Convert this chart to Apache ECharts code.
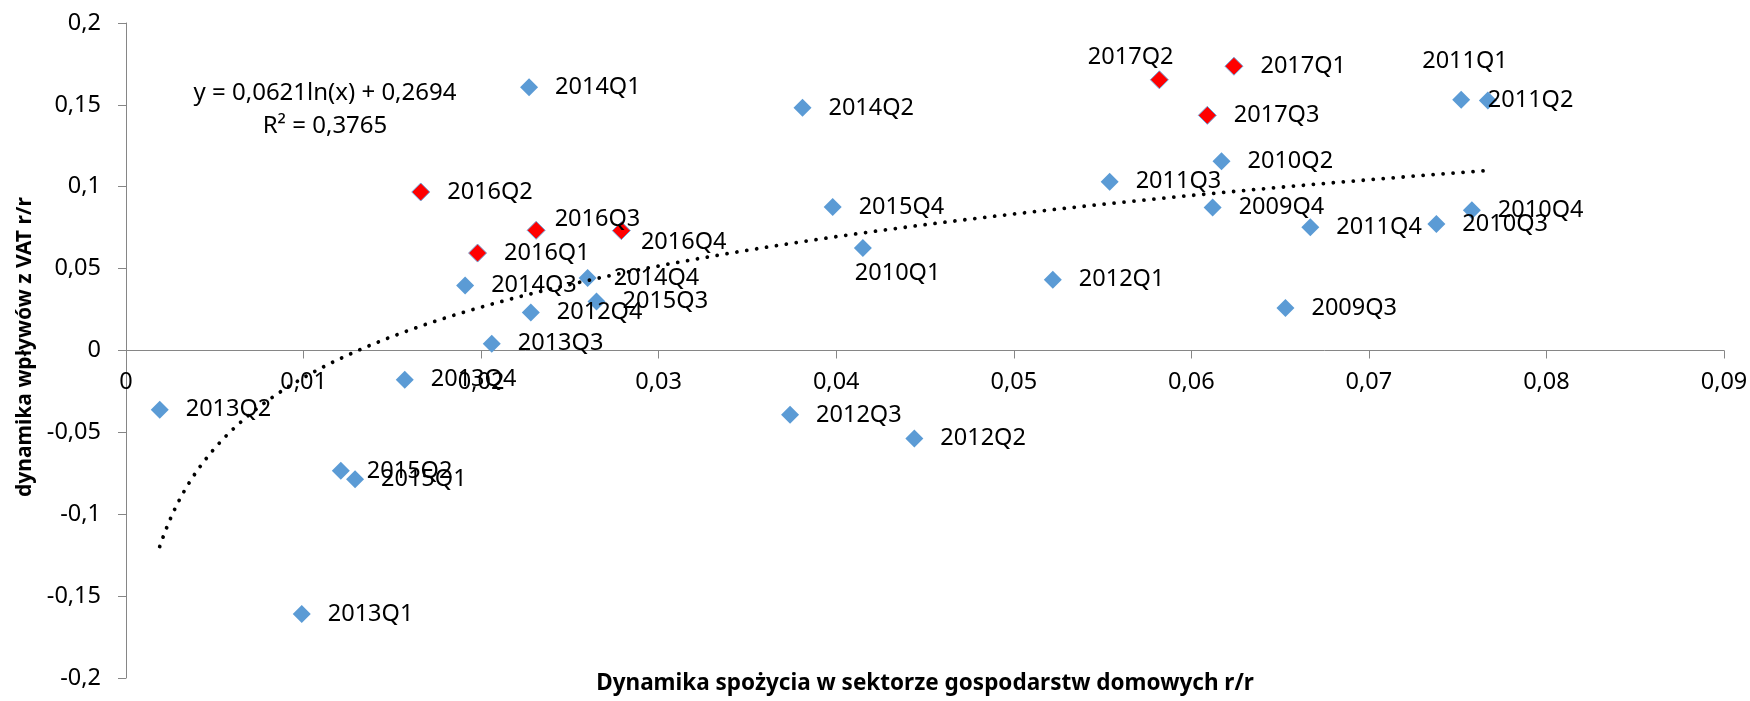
<!DOCTYPE html>
<html>
<head>
<meta charset="utf-8">
<script src="https://cdn.jsdelivr.net/npm/echarts@6/dist/echarts.min.js"></script>
<style>html,body{margin:0;padding:0;background:#fff;}#c{width:1750px;height:701px;}</style>
</head>
<body>
<div id="c"></div>
<script>
// ---- data ----
var blueLabels = ['2009Q3','2009Q4','2010Q1','2010Q2','2010Q3','2010Q4','2011Q1','2011Q2','2011Q3','2011Q4',
  '2012Q1','2012Q2','2012Q3','2012Q4','2013Q1','2013Q2','2013Q3','2013Q4','2014Q1','2014Q2','2014Q3','2014Q4',
  '2015Q1','2015Q2','2015Q3','2015Q4'];
var blueX = [0.0653,0.0612,0.0415,0.0617,0.0738,0.0758,0.0752,0.0767,0.0554,0.0667,
  0.0522,0.0444,0.0374,0.0228,0.0099,0.0019,0.0206,0.0157,0.0227,0.0381,0.0191,0.0260,
  0.0129,0.0121,0.0265,0.0398];
var blueY = [0.0259,0.0874,0.0626,0.1155,0.0773,0.0856,0.1532,0.1526,0.1031,0.0752,
  0.0432,-0.0538,-0.0393,0.0232,-0.1609,-0.0362,0.0041,-0.0179,0.1608,0.1482,0.0397,0.0442,
  -0.0786,-0.0735,0.0300,0.0877];
var redLabels = ['2016Q1','2016Q2','2016Q3','2016Q4','2017Q1','2017Q2','2017Q3'];
var redX = [0.0198,0.0166,0.0231,0.0279,0.0624,0.0582,0.0609];
var redY = [0.0595,0.0968,0.0734,0.0732,0.1736,0.1653,0.1436];
// logarithmic trendline shown on the chart: y = a*ln(x) + b
var trendA = 0.0621, trendB = 0.2694;
var trendText = ['y = 0,0621ln(x) + 0,2694', 'R\u00b2 = 0,3765'];
var xTitle = 'Dynamika spo\u017cycia w sektorze gospodarstw domowych r/r';
var yTitle = 'dynamika wp\u0142yw\u00f3w z VAT r/r';

// ---- label placement tweaks (styling, not data) ----
var labelOffsets = {
  '2017Q2': [-98, -23],
  '2011Q1': [-65, -38],
  '2010Q1': [-34, 25],
  '2016Q3': [-8, -11],
  '2016Q4': [-7, 12],
  '2011Q2': [-26, 0]
};

var FONT = '"Noto Sans", "Open Sans", sans-serif';
function fmt(v) { return String(Math.round(v * 1000) / 1000).replace('.', ','); }

function buildPoints(xs, ys, names) {
  return xs.map(function (x, i) {
    var p = { name: names[i], value: [x, ys[i]] };
    if (labelOffsets[names[i]]) p.label = { offset: labelOffsets[names[i]] };
    return p;
  });
}

var allX = blueX.concat(redX);
var xMin = Math.min.apply(null, allX), xMax = Math.max.apply(null, allX);
var trend = [];
var N = 300;
for (var i = 0; i <= N; i++) {
  var x = xMin + (xMax - xMin) * i / N;
  trend.push([x, trendA * Math.log(x) + trendB]);
}

var GRID_TOP = 23, GRID_BOTTOM = 23, H = 701;
var plotH = H - GRID_TOP - GRID_BOTTOM;

var labelStyle = {
  show: true, position: 'right', distance: 17,
  formatter: '{b}', color: '#000', fontFamily: FONT, fontSize: 23.5
};

var chart = echarts.init(document.getElementById('c'), null, { renderer: 'canvas' });
chart.setOption({
  animation: false,
  backgroundColor: '#fff',
  grid: { left: 126, right: 26, top: GRID_TOP, bottom: GRID_BOTTOM, containLabel: false, outerBoundsMode: 'none' },
  xAxis: {
    type: 'value', min: 0, max: 0.09, interval: 0.01,
    position: 'bottom', offset: -plotH / 2,
    axisLine: { onZero: false, lineStyle: { color: '#868686', width: 1 } },
    axisTick: { show: true, length: 8, lineStyle: { color: '#868686' } },
    splitLine: { show: false },
    axisLabel: { formatter: fmt, color: '#000', fontFamily: FONT, fontSize: 23.5, margin: 20 }
  },
  yAxis: {
    type: 'value', min: -0.2, max: 0.2, interval: 0.05,
    axisLine: { show: true, onZero: false, lineStyle: { color: '#868686', width: 1 } },
    axisTick: { show: true, length: 8, lineStyle: { color: '#868686' } },
    splitLine: { show: false },
    axisLabel: { formatter: fmt, color: '#000', fontFamily: FONT, fontSize: 23.5, margin: 25 }
  },
  series: [
    {
      type: 'line', data: trend, showSymbol: false, symbol: 'none', smooth: false,
      lineStyle: { color: '#000', width: 3.8, type: [0.01, 10], cap: 'round' },
      z: 3, silent: true
    },
    {
      type: 'scatter', symbol: 'diamond', symbolSize: 18,
      data: buildPoints(blueX, blueY, blueLabels),
      itemStyle: { color: '#5B9BD5', opacity: 1 },
      label: labelStyle, z: 2
    },
    {
      type: 'scatter', symbol: 'diamond', symbolSize: 18,
      data: buildPoints(redX, redY, redLabels),
      itemStyle: { color: '#FF0000', borderColor: '#6FA8DC', borderWidth: 1, opacity: 1 },
      label: labelStyle, z: 2
    }
  ],
  graphic: [
    {
      type: 'text', x: 325, y: 93,
      style: { text: trendText[0], fill: '#000', font: '24px ' + FONT, align: 'center', verticalAlign: 'middle' }
    },
    {
      type: 'text', x: 325, y: 126,
      style: { text: trendText[1], fill: '#000', font: '24px ' + FONT, align: 'center', verticalAlign: 'middle' }
    },
    {
      type: 'text', x: 925, y: 684,
      style: { text: xTitle, fill: '#000', font: 'bold 22.5px ' + FONT, align: 'center', verticalAlign: 'middle' }
    },
    {
      type: 'text', x: 25, y: 347, rotation: Math.PI / 2,
      style: { text: yTitle, fill: '#000', font: 'bold 21px ' + FONT, align: 'center', verticalAlign: 'middle' }
    }
  ]
});
</script>
</body>
</html>
